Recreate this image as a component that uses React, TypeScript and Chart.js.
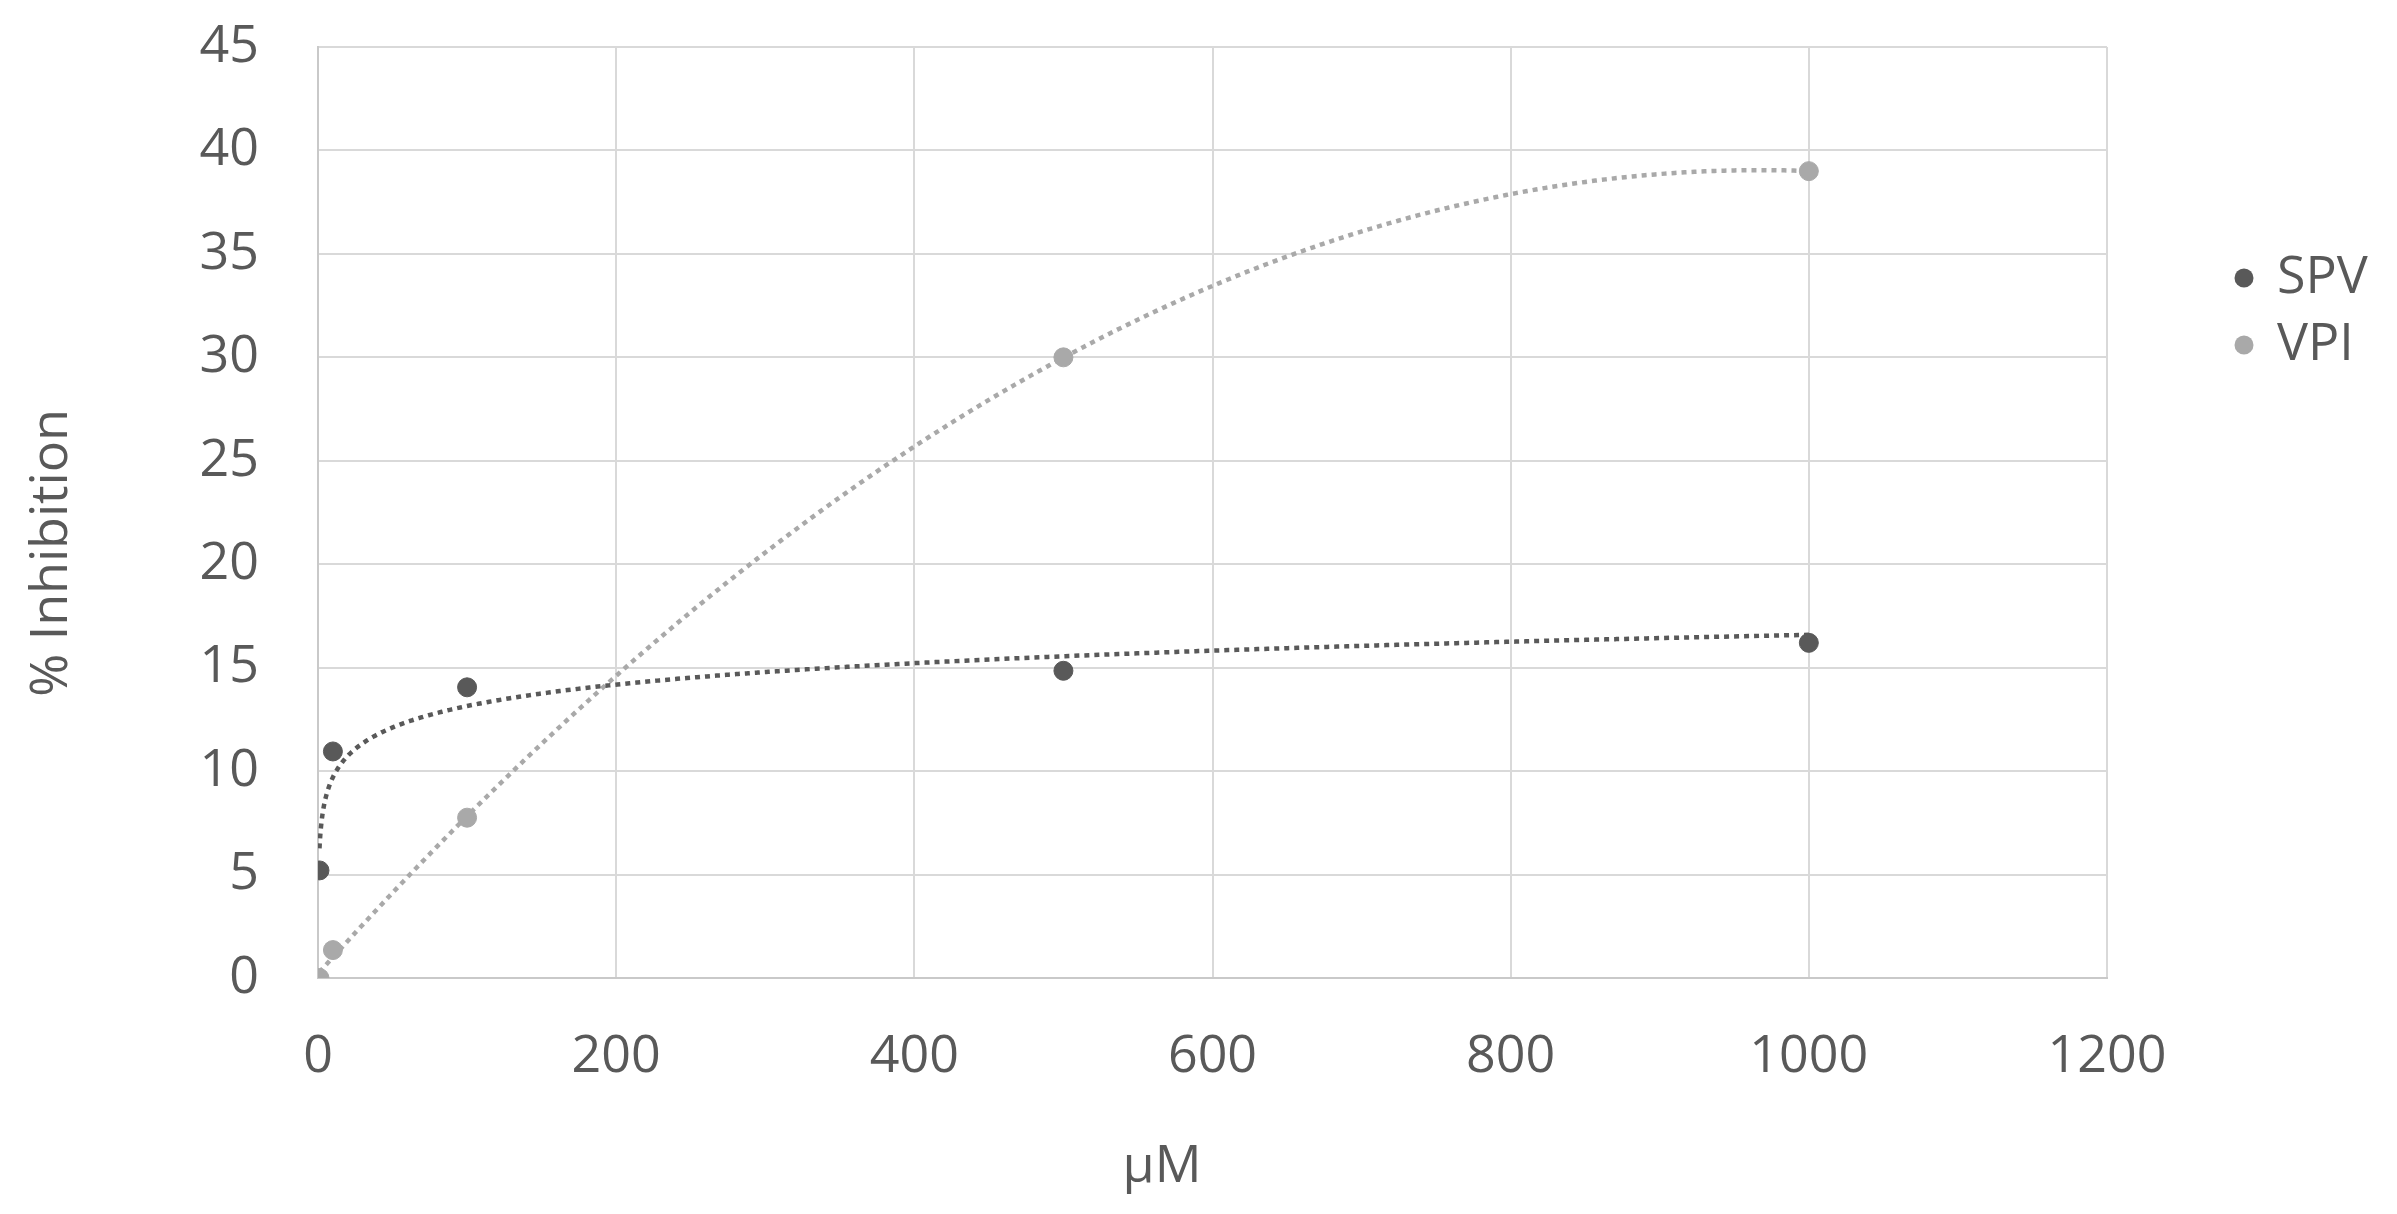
import React, { useEffect, useRef } from "react";
import { Chart, registerables } from "chart.js";

Chart.register(...registerables);

// ---- data ----
const concentrations = [1, 10, 100, 500, 1000];
const spvValues = [5.2, 10.95, 14.05, 14.85, 16.2];
const vpiValues = [0, 1.35, 7.75, 30.0, 39.0];
const seriesLabels = ["SPV", "VPI"];
const xTickValues = [0, 200, 400, 600, 800, 1000, 1200];
const yTickValues = [0, 5, 10, 15, 20, 25, 30, 35, 40, 45];
const xAxisTitle = "μM";
const yAxisTitle = "% Inhibition";

// ---- styles ----
const TEXT_COLOR = "#595959";
const SPV_COLOR = "#595959";
const VPI_COLOR = "#a9a9a9";
const GRID_COLOR = "#d9d9d9";
const FONT_FAMILY = '"Open Sans", "Noto Sans", sans-serif';
const FONT_SIZE = 52;

// Logarithmic least-squares trendline (as Excel's "Logarithmic" trendline)
function logFit(xs: number[], ys: number[]) {
  const lx = xs.map((x) => Math.log(x));
  const n = xs.length;
  const mx = lx.reduce((a, b) => a + b, 0) / n;
  const my = ys.reduce((a, b) => a + b, 0) / n;
  let sxx = 0;
  let sxy = 0;
  for (let i = 0; i < n; i++) {
    sxx += (lx[i] - mx) ** 2;
    sxy += (lx[i] - mx) * (ys[i] - my);
  }
  const a = sxy / sxx;
  const b = my - a * mx;
  return (x: number) => a * Math.log(x) + b;
}

// Second-order polynomial least-squares trendline
function polyFit2(xs: number[], ys: number[]) {
  const S = [0, 0, 0, 0, 0];
  const T = [0, 0, 0];
  for (let i = 0; i < xs.length; i++) {
    for (let k = 0; k <= 4; k++) S[k] += xs[i] ** k;
    for (let k = 0; k <= 2; k++) T[k] += ys[i] * xs[i] ** k;
  }
  const M = [
    [S[0], S[1], S[2], T[0]],
    [S[1], S[2], S[3], T[1]],
    [S[2], S[3], S[4], T[2]],
  ];
  for (let c = 0; c < 3; c++) {
    let p = c;
    for (let r = c + 1; r < 3; r++) if (Math.abs(M[r][c]) > Math.abs(M[p][c])) p = r;
    [M[c], M[p]] = [M[p], M[c]];
    for (let r = 0; r < 3; r++) {
      if (r === c) continue;
      const f = M[r][c] / M[c][c];
      for (let k = c; k < 4; k++) M[r][k] -= f * M[c][k];
    }
  }
  const c0 = M[0][3] / M[0][0];
  const c1 = M[1][3] / M[1][1];
  const c2 = M[2][3] / M[2][2];
  return (x: number) => c0 + c1 * x + c2 * x * x;
}

function sampleXs(min: number, max: number) {
  const out: number[] = [];
  const N = 300;
  for (let i = 0; i <= N; i++) {
    out.push(min * Math.pow(max / min, i / N));
    out.push(min + ((max - min) * i) / N);
  }
  return Array.from(new Set(out)).sort((a, b) => a - b);
}

const decorPlugin = {
  id: "decor",
  afterDraw(chart: any) {
    const ctx = chart.ctx as CanvasRenderingContext2D;
    const area = chart.chartArea;
    ctx.save();
    ctx.fillStyle = TEXT_COLOR;
    ctx.font = `${FONT_SIZE}px ${FONT_FAMILY}`;
    ctx.textAlign = "center";
    ctx.textBaseline = "middle";
    // x-axis title
    ctx.fillText(xAxisTitle, area.left + 844, area.bottom + 189);
    // y-axis title
    ctx.save();
    ctx.translate(44, area.top + 506);
    ctx.rotate(-Math.PI / 2);
    ctx.fillText(yAxisTitle, 0, 0);
    ctx.restore();
    // legend
    const colors = [SPV_COLOR, VPI_COLOR];
    const lx = area.right + 137;
    const ly0 = area.top + 231;
    const step = 67;
    ctx.textAlign = "left";
    seriesLabels.forEach((label, i) => {
      const y = ly0 + i * step;
      ctx.beginPath();
      ctx.arc(lx, y, 9.5, 0, Math.PI * 2);
      ctx.fillStyle = colors[i];
      ctx.fill();
      ctx.fillStyle = TEXT_COLOR;
      ctx.fillText(label, lx + 33, y);
    });
    ctx.restore();
  },
};

export default function App() {
  const canvasRef = useRef<HTMLCanvasElement | null>(null);

  useEffect(() => {
    if (!canvasRef.current) return;
    const spvFit = logFit(concentrations, spvValues);
    const vpiFit = polyFit2(concentrations, vpiValues);
    const xsTrend = sampleXs(Math.min(...concentrations), Math.max(...concentrations));

    const chart = new Chart(canvasRef.current, {
      type: "scatter",
      data: {
        datasets: [
          {
            label: seriesLabels[0],
            data: concentrations.map((x, i) => ({ x, y: spvValues[i] })),
            backgroundColor: SPV_COLOR,
            borderColor: SPV_COLOR,
            pointRadius: 9.5,
            borderWidth: 1,
          },
          {
            label: seriesLabels[1],
            data: concentrations.map((x, i) => ({ x, y: vpiValues[i] })),
            backgroundColor: VPI_COLOR,
            borderColor: VPI_COLOR,
            pointRadius: 9.5,
            borderWidth: 1,
          },
          {
            label: seriesLabels[0] + " trend",
            data: xsTrend.map((x) => ({ x, y: spvFit(x) })),
            showLine: true,
            borderColor: SPV_COLOR,
            borderWidth: 4.5,
            borderDash: [5, 5],
            pointRadius: 0,
            tension: 0,
          },
          {
            label: seriesLabels[1] + " trend",
            data: xsTrend.map((x) => ({ x, y: vpiFit(x) })),
            showLine: true,
            borderColor: VPI_COLOR,
            borderWidth: 4.5,
            borderDash: [5, 5],
            pointRadius: 0,
            tension: 0,
          },
        ],
      },
      options: {
        responsive: false,
        animation: false,
        layout: { padding: { left: 0, right: 282, top: 39, bottom: 0 } },
        plugins: {
          legend: { display: false },
          tooltip: { enabled: false },
          title: { display: false },
        },
        scales: {
          x: {
            type: "linear",
            min: 0,
            max: 1200,
            afterBuildTicks: (axis: any) => {
              axis.ticks = xTickValues.map((v) => ({ value: v }));
            },
            afterFit: (axis: any) => {
              axis.height = 228;
              axis.paddingLeft = 0;
              axis.paddingRight = 0;
            },
            grid: { color: GRID_COLOR, lineWidth: 2, drawTicks: false },
            border: { color: "#c9c9c9", width: 2 },
            ticks: {
              padding: 48,
              color: TEXT_COLOR,
              font: { family: FONT_FAMILY, size: FONT_SIZE },
              maxRotation: 0,
              callback: (v: any) => String(v),
            },
          },
          y: {
            type: "linear",
            min: 0,
            max: 45,
            afterBuildTicks: (axis: any) => {
              axis.ticks = yTickValues.map((v) => ({ value: v }));
            },
            afterFit: (axis: any) => {
              axis.width = 310;
              axis.paddingTop = 0;
              axis.paddingBottom = 0;
            },
            grid: { color: GRID_COLOR, lineWidth: 2, drawTicks: false },
            border: { color: "#c9c9c9", width: 2 },
            ticks: {
              padding: 59,
              color: TEXT_COLOR,
              font: { family: FONT_FAMILY, size: FONT_SIZE },
              callback: (v: any) => String(v),
            },
          },
        },
      },
      plugins: [decorPlugin],
    });
    return () => chart.destroy();
  }, []);

  return (
    <canvas
      ref={canvasRef}
      width={2381}
      height={1198}
      style={{ display: "block", width: 2381, height: 1198 }}
    />
  );
}
